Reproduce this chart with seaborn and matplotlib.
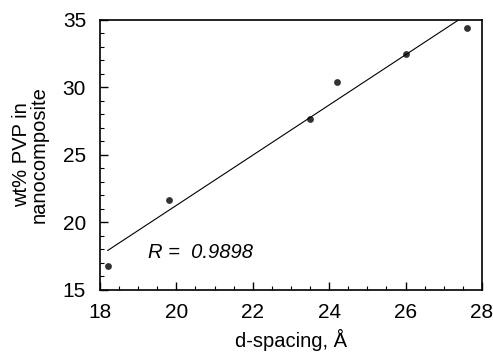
import numpy as np
import pandas as pd
import matplotlib
matplotlib.use('Agg')
import matplotlib.pyplot as plt
import seaborn as sns
from matplotlib.ticker import MultipleLocator

# data
d_spacing = [18.2, 19.8, 23.5, 24.2, 26.0, 27.6]
wt_pvp = [16.8, 21.7, 27.7, 30.4, 32.5, 34.4]
x_ticks = [18, 20, 22, 24, 26, 28]
y_ticks = [15, 20, 25, 30, 35]

df = pd.DataFrame({'d': d_spacing, 'wt': wt_pvp})

sns.set_style('ticks')
plt.rcParams['font.family'] = ['Liberation Sans', 'DejaVu Sans']
plt.rcParams['text.color'] = 'black'
plt.rcParams['axes.labelcolor'] = 'black'

fig = plt.figure(figsize=(4.93, 3.55), dpi=100)
ax = fig.add_axes([0.2028, 0.1831, 0.7749, 0.7606])

sns.regplot(data=df, x='d', y='wt', ci=None, ax=ax,
            scatter_kws={'s': 24, 'color': 'black', 'linewidths': 0},
            line_kws={'color': 'black', 'linewidth': 0.8})

ax.set_xlim(18, 28)
ax.set_ylim(15, 35)
ax.set_xticks(x_ticks)
ax.set_yticks(y_ticks)
ax.xaxis.set_minor_locator(MultipleLocator(0.5))
ax.yaxis.set_minor_locator(MultipleLocator(1))
ax.tick_params(which='both', direction='in', top=False, right=False, labelsize=15, colors='black')
ax.tick_params(which='major', length=6, width=1)
ax.tick_params(which='minor', length=3, width=0.8)
ax.tick_params(axis='x', pad=9.5)
ax.tick_params(axis='y', pad=10)
for s in ax.spines.values():
    s.set_visible(True)
    s.set_linewidth(1.2)
    s.set_color('black')

ax.set_xlabel('d-spacing, Å', fontsize=14.5, labelpad=5, color='black')
ax.set_ylabel('wt% PVP in\nnanocomposite', fontsize=14.5, labelpad=10, linespacing=0.9, color='black')

ax.text(19.25, 17.8, 'R =  0.9898', fontsize=14.5, style='italic', ha='left', va='center', color='black')

fig.savefig('out.png', dpi=100)
